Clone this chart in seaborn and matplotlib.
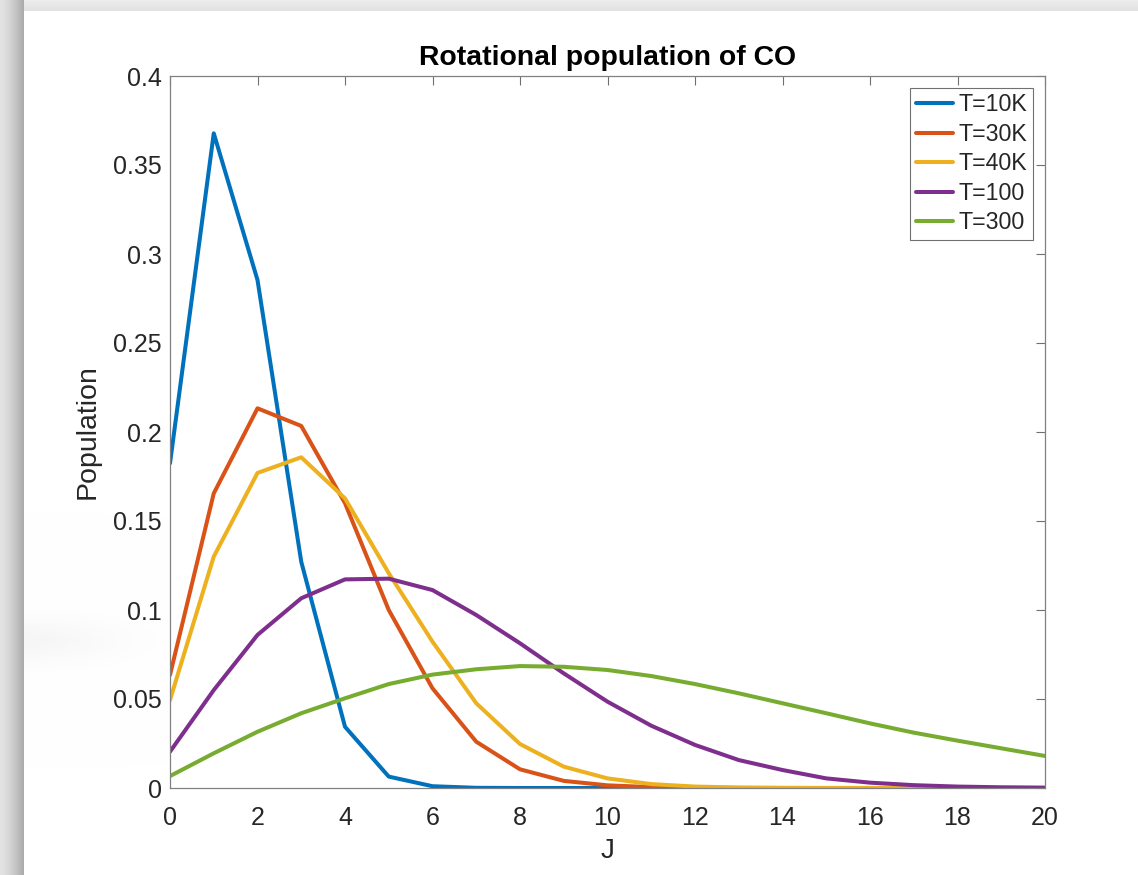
import numpy as np
import pandas as pd
import matplotlib
matplotlib.use("Agg")
import matplotlib.pyplot as plt
import seaborn as sns

# Rotational quantum number
J = list(range(21))

# Level populations at each temperature
pop_10K = [0.1824, 0.3678, 0.2854, 0.1271, 0.0344, 0.0064, 0.0010, 0.0001, 0.0, 0.0,
           0.0, 0.0, 0.0, 0.0, 0.0, 0.0, 0.0, 0.0, 0.0, 0.0, 0.0]
pop_30K = [0.0635, 0.1655, 0.2133, 0.2034, 0.1600, 0.1000, 0.0560, 0.0260, 0.0105, 0.0040,
           0.0015, 0.0005, 0.0002, 0.0, 0.0, 0.0, 0.0, 0.0, 0.0, 0.0, 0.0]
pop_40K = [0.0494, 0.1300, 0.1770, 0.1858, 0.1627, 0.1207, 0.0822, 0.0476, 0.0247, 0.0120,
           0.0054, 0.0022, 0.0008, 0.0003, 0.0001, 0.0, 0.0, 0.0, 0.0, 0.0, 0.0]
pop_100K = [0.0204, 0.0550, 0.0860, 0.1066, 0.1172, 0.1176, 0.1112, 0.0972, 0.0813, 0.0644,
            0.0485, 0.0350, 0.0242, 0.0157, 0.0101, 0.0054, 0.0030, 0.0016, 0.0008, 0.0004, 0.0002]
pop_300K = [0.0067, 0.0195, 0.0316, 0.0420, 0.0504, 0.0584, 0.0637, 0.0667, 0.0685, 0.0681,
            0.0663, 0.0629, 0.0584, 0.0532, 0.0476, 0.0420, 0.0363, 0.0311, 0.0266, 0.0223, 0.0180]

series_labels = ["T=10K", "T=30K", "T=40K", "T=100", "T=300"]
series_values = [pop_10K, pop_30K, pop_40K, pop_100K, pop_300K]
series_colors = ["#0072BD", "#D95319", "#EDB120", "#7E2F8E", "#77AC30"]

x_ticks = list(range(0, 21, 2))
y_ticks = [0, 0.05, 0.1, 0.15, 0.2, 0.25, 0.3, 0.35, 0.4]
y_ticklabels = ["0", "0.05", "0.1", "0.15", "0.2", "0.25", "0.3", "0.35", "0.4"]

df = pd.concat(
    [pd.DataFrame({"J": J, "Population": vals, "T": lab})
     for lab, vals in zip(series_labels, series_values)],
    ignore_index=True,
)

sns.set_theme(style="white")
plt.rcParams["font.family"] = ["Liberation Sans", "DejaVu Sans"]

W, H, DPI = 1138, 875, 100
fig = plt.figure(figsize=(W / DPI, H / DPI), dpi=DPI)

# Window frame: soft grey shadow along the left and top edges
bg = fig.add_axes([0, 0, 1, 1], zorder=-10)
xs = np.arange(W)[None, :]
ys = np.arange(H)[:, None]
left = np.clip(xs / 23.0, 0, 1)
left_shade = np.where(xs < 24, 0.89 - 0.22 * left ** 1.5, 1.0)
top = np.clip(ys / 11.0, 0, 1)
top_shade = np.where(ys < 11, 0.93 - 0.05 * top, 1.0)
img = np.minimum(left_shade, top_shade) * np.ones((H, W))
smudge = 0.035 * np.exp(-((ys - 640) / 22.0) ** 2) * np.exp(-((xs - 24) / 90.0) ** 2)
img = np.where(xs >= 24, img - smudge, img)
bg.imshow(np.dstack([img] * 3), aspect="auto", extent=[0, 1, 0, 1], interpolation="bilinear")
bg.set_axis_off()

ax = fig.add_axes([170 / W, 1 - 788 / H, (1045 - 170) / W, (788 - 76) / H])
sns.lineplot(data=df, x="J", y="Population", hue="T", palette=series_colors,
             hue_order=series_labels, linewidth=2.9, ax=ax, legend=False)

ax.set_xlim(0, 20)
ax.set_ylim(0, 0.4)
ax.set_xticks(x_ticks)
ax.set_xticklabels([str(v) for v in x_ticks])
ax.set_yticks(y_ticks)
ax.set_yticklabels(y_ticklabels)
ax.tick_params(direction="in", top=True, right=True, length=6.5, width=0.8,
               colors="#707070", labelcolor="#262626", labelsize=18)
ax.tick_params(axis="x", pad=13)
ax.tick_params(axis="y", pad=6)
for sp in ax.spines.values():
    sp.set_color("#808080")
    sp.set_linewidth(0.9)

ax.set_xlabel("J", fontsize=20, color="#262626", labelpad=6)
ax.set_ylabel("Population", fontsize=20.5, color="#262626", labelpad=9)
ax.set_title("Rotational population of CO", fontsize=20.4, fontweight="bold",
             color="black", pad=8)

handles = [plt.Line2D([], [], color=c, lw=2.9) for c in series_colors]
leg = ax.legend(handles, series_labels, loc="upper right", fontsize=16.7,
                frameon=True, fancybox=False, edgecolor="#707070", framealpha=1,
                handlelength=1.6, handletextpad=0.25, borderpad=0.25,
                labelspacing=0.28, borderaxespad=0.5)
leg.get_frame().set_linewidth(0.8)
for t in leg.get_texts():
    t.set_color("#262626")

fig.savefig("out.png", dpi=DPI)
